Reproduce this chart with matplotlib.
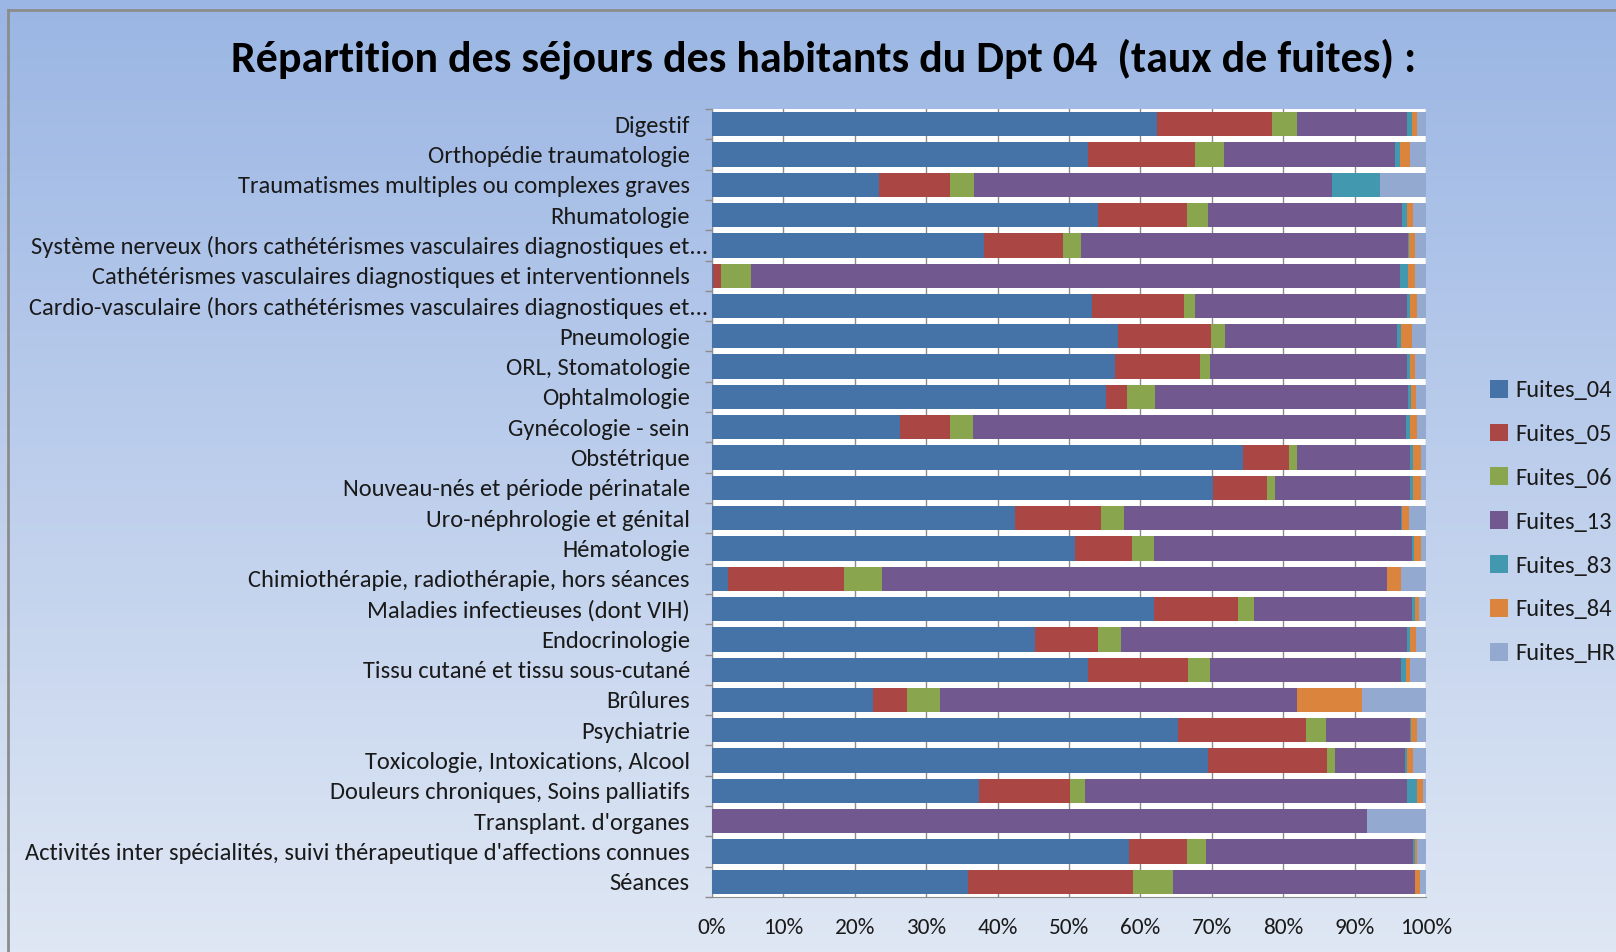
import numpy as np
import matplotlib
matplotlib.use("Agg")
import matplotlib.pyplot as plt
from matplotlib import font_manager
from matplotlib.patches import Patch
from matplotlib.lines import Line2D
from matplotlib.transforms import ScaledTranslation

# categories, top to bottom
categories = [
    "Digestif",
    "Orthopédie traumatologie",
    "Traumatismes multiples ou complexes graves",
    "Rhumatologie",
    "Système nerveux (hors cathétérismes vasculaires diagnostiques et...",
    "Cathétérismes vasculaires diagnostiques et interventionnels",
    "Cardio-vasculaire (hors cathétérismes vasculaires diagnostiques et...",
    "Pneumologie",
    "ORL, Stomatologie",
    "Ophtalmologie",
    "Gynécologie - sein",
    "Obstétrique",
    "Nouveau-nés et période périnatale",
    "Uro-néphrologie et génital",
    "Hématologie",
    "Chimiothérapie, radiothérapie, hors séances",
    "Maladies infectieuses (dont VIH)",
    "Endocrinologie",
    "Tissu cutané et tissu sous-cutané",
    "Brûlures",
    "Psychiatrie",
    "Toxicologie, Intoxications, Alcool",
    "Douleurs chroniques, Soins palliatifs",
    "Transplant. d'organes",
    "Activités inter spécialités, suivi thérapeutique d'affections connues",
    "Séances",
]

# shares in %
fuites_04 = [62.3, 52.6, 23.4, 54.1, 38.1, 0.2, 53.2, 56.8, 56.5, 55.2, 26.3, 74.4, 70.1,
             42.5, 50.8, 2.3, 61.9, 45.2, 52.6, 22.6, 65.2, 69.4, 37.4, 0.0, 58.4, 35.8]
fuites_05 = [16.1, 15.1, 10.0, 12.4, 11.0, 1.0, 12.9, 13.1, 11.9, 2.9, 7.1, 6.4, 7.7,
             12.0, 8.0, 16.2, 11.8, 8.8, 14.1, 4.7, 18.0, 16.8, 12.8, 0.0, 8.1, 23.2]
fuites_06 = [3.5, 4.0, 3.3, 3.0, 2.6, 4.3, 1.6, 1.9, 1.3, 4.0, 3.1, 1.1, 1.1,
             3.2, 3.1, 5.3, 2.2, 3.3, 3.0, 4.6, 2.8, 1.1, 2.1, 0.0, 2.7, 5.6]
fuites_13 = [15.5, 24.0, 50.1, 27.2, 45.8, 90.9, 29.7, 24.2, 27.7, 35.4, 60.7, 15.9, 18.9,
             38.8, 36.2, 70.7, 22.2, 40.1, 26.8, 50.0, 11.8, 9.8, 45.1, 91.8, 29.0, 33.8]
fuites_83 = [0.6, 0.7, 6.7, 0.6, 0.1, 1.1, 0.4, 0.5, 0.4, 0.4, 0.6, 0.4, 0.4,
             0.2, 0.2, 0.0, 0.4, 0.4, 0.7, 0.0, 0.1, 0.3, 1.4, 0.0, 0.3, 0.1]
fuites_84 = [0.8, 1.3, 0.0, 0.9, 0.8, 0.9, 1.0, 1.6, 0.6, 0.7, 0.9, 1.1, 1.1,
             0.9, 1.0, 2.0, 0.5, 0.8, 0.6, 9.2, 0.9, 0.8, 0.8, 0.0, 0.3, 0.6]
fuites_hr = [1.2, 2.3, 6.5, 1.8, 1.6, 1.6, 1.2, 1.9, 1.6, 1.4, 1.3, 0.7, 0.7,
             2.4, 0.7, 3.5, 1.0, 1.4, 2.2, 8.9, 1.2, 1.8, 0.4, 8.2, 1.2, 0.9]

series_names = ["Fuites_04", "Fuites_05", "Fuites_06", "Fuites_13", "Fuites_83", "Fuites_84", "Fuites_HR"]
colors = ["#4572A7", "#AA4643", "#89A54E", "#71588F", "#4198AF", "#DB843D", "#93A9CF"]

# pick a font close to Calibri
installed = {f.name for f in font_manager.fontManager.ttflist}
font = next((f for f in ["Carlito", "Liberation Sans Narrow", "Lato", "Roboto"] if f in installed),
            "DejaVu Sans")
plt.rcParams["font.family"] = [font, "DejaVu Sans"]

W, H = 1616, 952
fig = plt.figure(figsize=(W / 100, H / 100), dpi=100)
renderer = fig.canvas.get_renderer()


def fit_size(text, width_px, size0=20, **kw):
    # font size so that text is width_px wide
    t = fig.text(0, 0, text, fontsize=size0, **kw)
    w = t.get_window_extent(renderer).width
    t.remove()
    return size0 * width_px / w


# background gradient + frame
bg = fig.add_axes([0, 0, 1, 1], zorder=-10)
grad = np.linspace(0, 1, 256)[:, None]
top = np.array([0x9b, 0xb6, 0xe4]) / 255
bot = np.array([0xdf, 0xe7, 0xf4]) / 255
img = top[None, None, :] * (1 - grad[:, :, None]) + bot[None, None, :] * grad[:, :, None]
bg.imshow(img, aspect="auto", extent=[0, 1, 0, 1], origin="upper")
bg.set_xlim(0, 1)
bg.set_ylim(0, 1)
bg.axis("off")
bg.add_line(Line2D([7.5 / W, 7.5 / W], [0, 1 - 9.5 / H], color="#8c8c8c", lw=2))
bg.add_line(Line2D([7.5 / W, 1], [1 - 9.5 / H, 1 - 9.5 / H], color="#8c8c8c", lw=2))

ax = fig.add_axes([712 / W, 1 - 897 / H, 714 / W, 788 / H])
ax.set_facecolor("white")

data = np.array([fuites_04, fuites_05, fuites_06, fuites_13, fuites_83, fuites_84, fuites_hr])
data = data / data.sum(axis=0) * 100
y = np.arange(len(categories))
left = np.zeros(len(categories))
for vals, name, c in zip(data, series_names, colors):
    ax.barh(y, vals, left=left, height=0.8, color=c, label=name, zorder=3)
    left += vals

label_size = fit_size(categories[24], 664)
tick_size = fit_size("100%", 52)

ax.set_xlim(0, 100)
ax.set_ylim(len(categories) - 0.5, -0.5)
ax.set_xticks(np.arange(0, 101, 10))
ax.set_xticklabels([f"{v}%" for v in range(0, 101, 10)])
ax.set_yticks(y)
ax.set_yticklabels(categories)
ax.set_yticks(np.arange(-0.5, len(categories), 1), minor=True)
ax.tick_params(axis="y", which="major", length=0, pad=16, labelsize=label_size, labelcolor="#1a1a1a")
ax.tick_params(axis="y", which="minor", length=5, color="#8c8c8c", width=1)
ax.tick_params(axis="x", length=0, pad=15, labelsize=tick_size, labelcolor="#1a1a1a")
ax.grid(axis="x", color="#8c8c8c", lw=1, zorder=0)
ax.set_axisbelow(True)
for s in ["top", "right"]:
    ax.spines[s].set_visible(False)
for s in ["left", "bottom"]:
    ax.spines[s].set_color("#8c8c8c")

# truncated labels sit closer to the axis, as in the original
shift = ScaledTranslation(18 / 100, 0, fig.dpi_scale_trans)
for lab in ax.get_yticklabels():
    if lab.get_text().endswith("..."):
        lab.set_transform(lab.get_transform() + shift)

title = "Répartition des séjours des habitants du Dpt 04  (taux de fuites) :"
title_size = fit_size(title, 1186, fontweight="bold")
fig.text(824 / W, 1 - 59 / H, title, ha="center", va="center",
         fontsize=title_size, fontweight="bold", color="black")

leg_size = fit_size("Fuites_04", 96)
handles = [Patch(facecolor=c, label=n) for n, c in zip(series_names, colors)]
fig.legend(handles=handles, loc="center left", bbox_to_anchor=(1490 / W, 1 - 522 / H),
           frameon=False, fontsize=leg_size, handlelength=0.75, handleheight=0.75,
           handletextpad=0.3, labelspacing=0.92, labelcolor="#1a1a1a",
           borderaxespad=0, borderpad=0)

fig.savefig("out.png", dpi=100)
